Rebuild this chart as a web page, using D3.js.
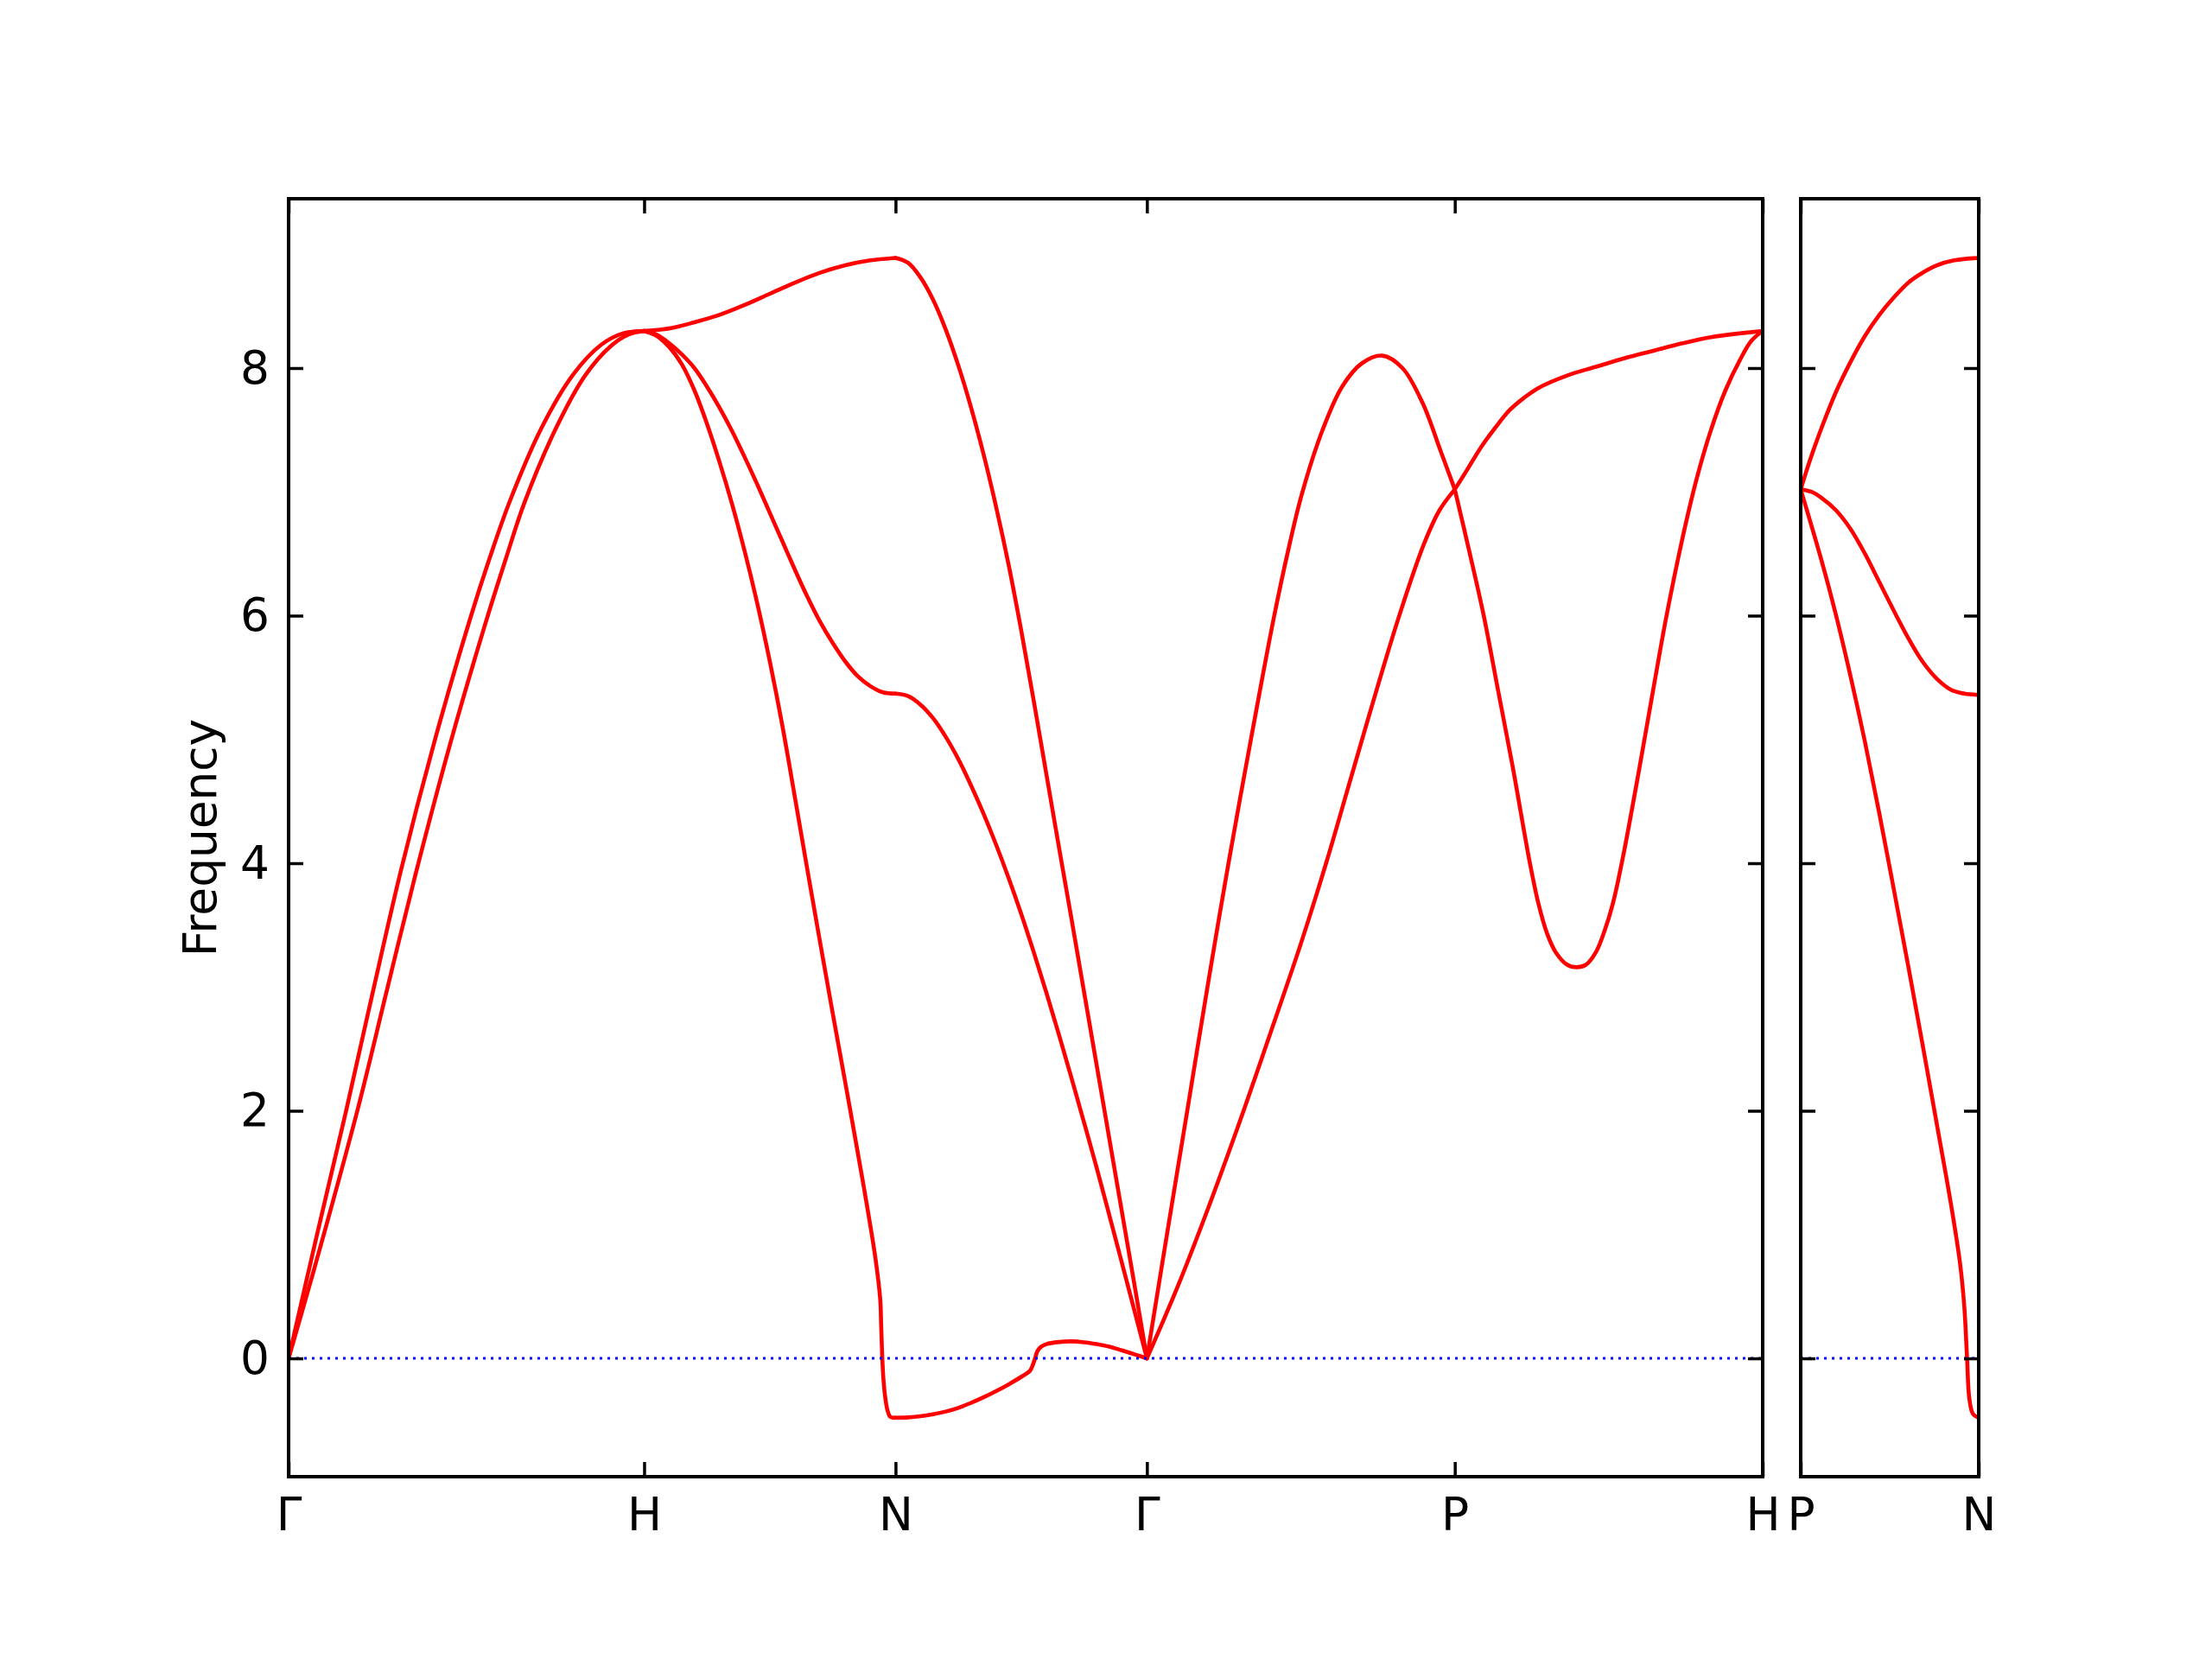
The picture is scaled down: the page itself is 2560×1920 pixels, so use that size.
<!DOCTYPE html>
<html><head><meta charset="utf-8">
<script src="https://cdn.jsdelivr.net/npm/d3@7/dist/d3.min.js"></script>
<style>
body{margin:0;background:#fff;}
svg text{font-family:"DejaVu Sans",sans-serif;fill:#000;}
</style>
</head><body>
<svg id="chart" width="2560" height="1920"></svg>
<script>
// ---------------- DATA ----------------
// path: Γ-H-N-Γ-P-H | P-N ; segment lengths in reciprocal-space units (2π/a)
const mainLabels = ["Γ","H","N","Γ","P","H"];
const mainSegLengths = [1.0, 0.7071, 0.7071, 0.8660, 0.8660];
const sideLabels = ["P","N"];
const sideSegLengths = [0.5];
const yTicks = [0, 2, 4, 6, 8];
const yLimits = [-0.956, 9.368];

// each band: [fraction along segment, frequency]
// Γ-H
const GH_upper = [[0,0],[0.08,1.0],[0.161,1.99],[0.237,2.96],[0.315,3.93],[0.41,4.98],[0.509,5.96],[0.565,6.46],[0.623,6.93],[0.712,7.52],[0.801,7.95],[0.88,8.19],[0.94,8.28],[1,8.3]];
const GH_lower = [[0,0],[0.05,0.5],[0.097,0.98],[0.196,2.03],[0.277,2.98],[0.357,3.91],[0.455,4.97],[0.555,5.95],[0.61,6.45],[0.663,6.91],[0.753,7.52],[0.834,7.94],[0.907,8.18],[0.955,8.27],[1,8.3]];
// H-N
const HN_top = [[0,8.30],[0.1,8.32],[0.2,8.37],[0.3,8.43],[0.4,8.51],[0.5,8.60],[0.6,8.69],[0.7,8.77],[0.8,8.83],[0.9,8.87],[1,8.89]];
const HN_mid = [[0,8.30],[0.05,8.27],[0.1,8.20],[0.15,8.11],[0.2,8.00],[0.25,7.85],[0.3,7.68],[0.35,7.49],[0.4,7.28],[0.45,7.06],[0.5,6.83],[0.55,6.60],[0.6,6.37],[0.65,6.15],[0.7,5.95],[0.75,5.78],[0.8,5.63],[0.85,5.51],[0.9,5.43],[0.95,5.38],[1,5.37]];
const HN_low = [[0,8.30],[0.05,8.26],[0.1,8.17],[0.15,8.03],[0.2,7.82],[0.25,7.55],[0.3,7.24],[0.35,6.90],[0.4,6.52],[0.45,6.10],[0.5,5.63],[0.55,5.11],[0.6,4.53],[0.65,3.94],[0.7,3.36],[0.75,2.79],[0.8,2.23],[0.85,1.66],[0.886,1.24],[0.92,0.81],[0.939,0.48],[0.943,0.26],[0.947,0.02],[0.952,-0.17],[0.96,-0.33],[0.968,-0.42],[0.978,-0.47],[0.99,-0.48],[1,-0.48]];
// N-Γ
const NG_top = [[0,8.89],[0.05,8.85],[0.1,8.73],[0.15,8.55],[0.2,8.31],[0.25,8.02],[0.3,7.685],[0.35,7.305],[0.4,6.88],[0.45,6.41],[0.5,5.88],[0.55,5.31],[0.6,4.72],[0.65,4.13],[0.7,3.55],[0.75,2.96],[0.8,2.37],[0.85,1.78],[0.9,1.19],[0.95,0.60],[1,0]];
const NG_mid = [[0,5.37],[0.05,5.35],[0.1,5.28],[0.15,5.17],[0.2,5.02],[0.25,4.84],[0.3,4.63],[0.35,4.40],[0.4,4.15],[0.45,3.88],[0.5,3.59],[0.55,3.28],[0.6,2.955],[0.65,2.615],[0.7,2.265],[0.75,1.905],[0.8,1.54],[0.85,1.16],[0.9,0.775],[0.95,0.388],[1,0]];
const NG_low = [[0,-0.48],[0.05,-0.477],[0.1,-0.468],[0.15,-0.452],[0.2,-0.43],[0.25,-0.40],[0.3,-0.36],[0.35,-0.315],[0.4,-0.265],[0.45,-0.21],[0.5,-0.15],[0.535,-0.10],[0.545,-0.06],[0.555,0.0],[0.565,0.06],[0.58,0.095],[0.6,0.115],[0.65,0.132],[0.7,0.137],[0.75,0.13],[0.8,0.115],[0.85,0.095],[0.9,0.065],[0.95,0.033],[1,0]];
// Γ-P
const GP_a = [[0,0],[0.065,1.0],[0.131,2.0],[0.2,3.05],[0.265,4.0],[0.34,5.03],[0.412,5.98],[0.46,6.54],[0.503,6.98],[0.569,7.49],[0.634,7.85],[0.699,8.04],[0.765,8.10],[0.83,8.0],[0.895,7.72],[0.954,7.33],[1,7.02]];
const GP_b = [[0,0],[0.1,0.58],[0.2,1.22],[0.314,2.0],[0.4,2.62],[0.5,3.35],[0.582,4.0],[0.65,4.58],[0.72,5.18],[0.817,5.98],[0.9,6.58],[0.95,6.85],[1,7.02]];
// P-H
const PH_a = [[0,7.02],[0.048,6.51],[0.094,6.0],[0.141,5.39],[0.188,4.78],[0.244,4.0],[0.272,3.67],[0.30,3.43],[0.328,3.28],[0.365,3.18],[0.395,3.16],[0.426,3.18],[0.458,3.28],[0.486,3.45],[0.514,3.68],[0.547,4.06],[0.599,4.76],[0.645,5.41],[0.687,5.99],[0.739,6.62],[0.785,7.10],[0.832,7.50],[0.879,7.82],[0.925,8.06],[0.963,8.22],[1,8.30]];
const PH_b = [[0,7.02],[0.038,7.17],[0.085,7.36],[0.132,7.52],[0.178,7.66],[0.225,7.76],[0.272,7.84],[0.365,7.94],[0.458,8.01],[0.552,8.08],[0.645,8.14],[0.739,8.20],[0.832,8.25],[0.925,8.28],[1,8.30]];
// P-N (side panel)
const PN_top = [[0,7.02],[0.053,7.26],[0.118,7.52],[0.199,7.81],[0.28,8.05],[0.361,8.26],[0.442,8.43],[0.523,8.57],[0.604,8.69],[0.684,8.77],[0.765,8.83],[0.862,8.87],[1,8.89]];
const PN_mid = [[0,7.02],[0.06,7.0],[0.118,6.95],[0.199,6.85],[0.28,6.70],[0.361,6.50],[0.442,6.27],[0.523,6.04],[0.604,5.82],[0.684,5.63],[0.765,5.49],[0.846,5.40],[0.92,5.37],[1,5.36]];
const PN_low = [[0,7.02],[0.118,6.44],[0.199,6.0],[0.28,5.51],[0.361,4.98],[0.442,4.40],[0.523,3.79],[0.604,3.17],[0.684,2.54],[0.765,1.89],[0.846,1.23],[0.895,0.77],[0.919,0.42],[0.935,-0.01],[0.947,-0.32],[0.968,-0.45],[1,-0.48]];

const mainSegBands = [
  [GH_upper, GH_lower],
  [HN_top, HN_mid, HN_low],
  [NG_top, NG_mid, NG_low],
  [GP_a, GP_b],
  [PH_a, PH_b]
];
const sideSegBands = [[PN_top, PN_mid, PN_low]];

// ---------------- LAYOUT ----------------
const svg = d3.select("#chart");
const FS = 53.3;
const plotTop = 230, plotBottom = 1709;
const mainBox = {x0: 334, x1: 2040};
const sideBox = {x0: 2084, x1: 2290};
const tickLen = 17;

const y = d3.scaleLinear().domain(yLimits).range([plotBottom, plotTop]);

function cumulative(lengths){
  const c=[0]; lengths.forEach(l=>c.push(c[c.length-1]+l)); return c;
}

function drawPanel(box, lengths, segBands, labels, showYLabels){
  const cum = cumulative(lengths);
  const x = d3.scaleLinear().domain([0, cum[cum.length-1]]).range([box.x0, box.x1]);
  const g = svg.append("g");
  const clipId = "clip"+box.x0;
  g.append("clipPath").attr("id",clipId).append("rect")
    .attr("x",box.x0).attr("y",plotTop).attr("width",box.x1-box.x0).attr("height",plotBottom-plotTop);

  const line = d3.line().x(d=>x(d[0])).y(d=>y(d[1])).curve(d3.curveCatmullRom.alpha(0.5));
  const plot = g.append("g").attr("clip-path",`url(#${clipId})`);
  segBands.forEach((bands,i)=>{
    bands.forEach(b=>{
      const pts = b.map(p=>[cum[i]+p[0]*lengths[i], p[1]]);
      plot.append("path").attr("d",line(pts))
        .attr("fill","none").attr("stroke","#ff0000")
        .attr("stroke-width",4.6).attr("stroke-linejoin","round").attr("stroke-linecap","round");
    });
  });
  // zero line
  plot.append("line").attr("x1",box.x0).attr("x2",box.x1).attr("y1",y(0)).attr("y2",y(0))
    .attr("stroke","#0000ff").attr("stroke-width",3).attr("stroke-dasharray","3,6");

  // axes
  const styleAxis = sel=>{
    sel.select(".domain").remove();
    sel.selectAll(".tick line").attr("stroke","#000").attr("stroke-width",3.5);
    sel.selectAll(".tick text").attr("font-size",FS).attr("fill","#000").attr("font-family","DejaVu Sans");
  };
  g.append("g").attr("transform",`translate(${box.x0},0)`)
    .call(d3.axisLeft(y).tickValues(yTicks).tickSize(-tickLen).tickPadding(22)
      .tickFormat(showYLabels? d3.format("d") : ()=>"")).call(styleAxis);
  g.append("g").attr("transform",`translate(${box.x1},0)`)
    .call(d3.axisRight(y).tickValues(yTicks).tickSize(-tickLen).tickFormat(()=>"")).call(styleAxis);
  g.append("g").attr("transform",`translate(0,${plotBottom})`)
    .call(d3.axisBottom(x).tickValues(cum).tickSize(-tickLen).tickPadding(24)
      .tickFormat((d,i)=>labels[i])).call(styleAxis);
  g.append("g").attr("transform",`translate(0,${plotTop})`)
    .call(d3.axisTop(x).tickValues(cum).tickSize(-tickLen).tickFormat(()=>"")).call(styleAxis);

  // frame
  g.append("rect").attr("x",box.x0).attr("y",plotTop).attr("width",box.x1-box.x0).attr("height",plotBottom-plotTop)
    .attr("fill","none").attr("stroke","#000").attr("stroke-width",4);
}

drawPanel(mainBox, mainSegLengths, mainSegBands, mainLabels, true);
drawPanel(sideBox, sideSegLengths, sideSegBands, sideLabels, false);

svg.append("text").attr("transform",`translate(250,${(plotTop+plotBottom)/2}) rotate(-90)`)
  .attr("text-anchor","middle").attr("font-size",FS).text("Frequency");
</script>
</body></html>
